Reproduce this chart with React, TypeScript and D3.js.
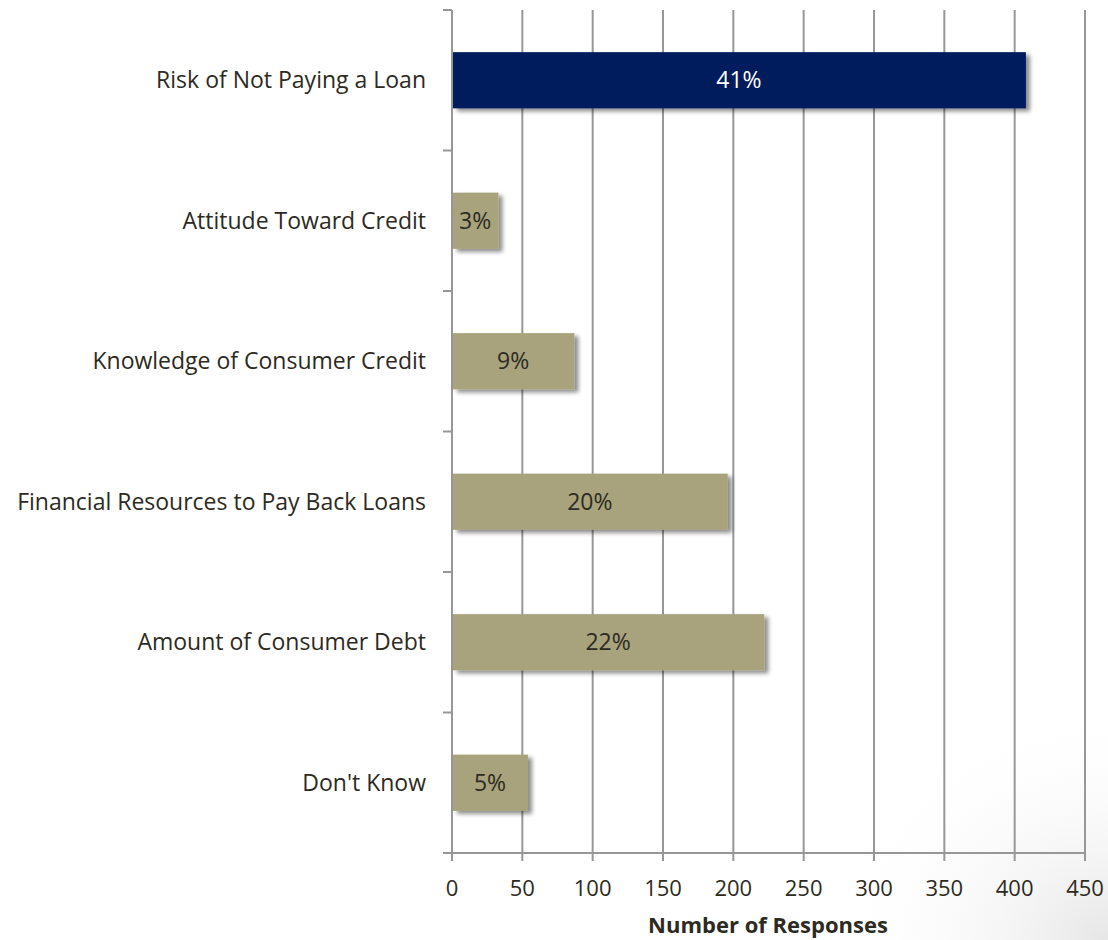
import React from "react";
import * as d3 from "d3";

const categories = [
  "Risk of Not Paying a Loan",
  "Attitude Toward Credit",
  "Knowledge of Consumer Credit",
  "Financial Resources to Pay Back Loans",
  "Amount of Consumer Debt",
  "Don't Know",
];
const responses = [408, 33, 87, 196, 222, 54];
const percentLabels = ["41%", "3%", "9%", "20%", "22%", "5%"];
const xTicks = [0, 50, 100, 150, 200, 250, 300, 350, 400, 450];
const highlight = "Risk of Not Paying a Loan";

const W = 1108;
const H = 940;
const left = 452;
const right = 1085;
const top = 10;
const bottom = 853;
const FONT = "'Open Sans', sans-serif";
const FS = 23;

export default function App() {
  const x = d3.scaleLinear().domain([0, 450]).range([left, right]);
  const y = d3.scaleBand().domain(categories).range([top, bottom]).paddingInner(0.6).paddingOuter(0.3);
  const yTicks = d3.range(categories.length + 1).map((i) => top + (i * (bottom - top)) / categories.length);

  return (
    <svg width={W} height={H} style={{ position: "absolute", left: 0, top: 0, background: "#fff" }}>
      <defs>
        <filter id="shadow" x="-10%" y="-20%" width="130%" height="150%">
          <feDropShadow dx="4" dy="3" stdDeviation="2.2" floodColor="#000" floodOpacity="0.45" />
        </filter>
        <radialGradient id="bg" cx="1" cy="1" r="0.25">
          <stop offset="0" stopColor="#e6e6e6" />
          <stop offset="1" stopColor="#ffffff" stopOpacity="0" />
        </radialGradient>
      </defs>
      <rect x={0} y={0} width={W} height={H} fill="url(#bg)" />
      {xTicks.map((t) => (
        <line key={"g" + t} x1={x(t)} x2={x(t)} y1={top} y2={bottom + 8} stroke="#979797" strokeWidth={2} />
      ))}
      <line x1={left - 9} x2={right} y1={bottom} y2={bottom} stroke="#979797" strokeWidth={2} />
      {yTicks.map((t, i) => (
        <line key={"yt" + i} x1={left - 9} x2={left} y1={t} y2={t} stroke="#979797" strokeWidth={2} />
      ))}
      {categories.map((c, i) => {
        const y0 = y(c)!;
        const bw = y.bandwidth();
        const isHi = c === highlight;
        const x1 = x(responses[i]);
        return (
          <g key={c}>
            <rect x={left + 1} y={y0} width={x1 - left - 1} height={bw} fill={isHi ? "#001f5c" : "#a8a37b"} filter="url(#shadow)" />
            <text
              x={(left + x1) / 2}
              y={y0 + bw / 2}
              dy="0.35em"
              textAnchor="middle"
              fontFamily={FONT}
              fontSize={FS}
              fill={isHi ? "#ffffff" : "#2d2a22"}
            >
              {percentLabels[i]}
            </text>
            <text
              x={426}
              y={y0 + bw / 2}
              dy="0.35em"
              textAnchor="end"
              fontFamily={FONT}
              fontSize={FS}
              fill="#2d2a22"
            >
              {c}
            </text>
          </g>
        );
      })}
      {xTicks.map((t) => (
        <text key={"xl" + t} x={x(t)} y={888} dy="0.35em" textAnchor="middle" fontFamily={FONT} fontSize={22} fill="#2d2a22">
          {t}
        </text>
      ))}
      <text x={768} y={925} dy="0.35em" textAnchor="middle" fontFamily={FONT} fontSize={22} fontWeight="bold" fill="#2d2a22">
        Number of Responses
      </text>
    </svg>
  );
}
